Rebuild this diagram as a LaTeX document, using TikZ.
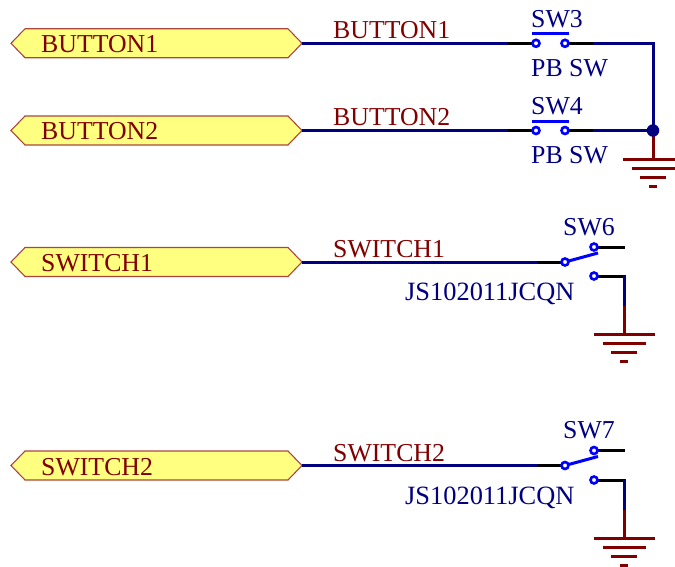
\documentclass[tikz,border=0pt]{standalone}
\usepackage{fontspec}
\setmainfont{Liberation Serif}
\definecolor{wirenavy}{RGB}{0,0,128}
\definecolor{pinblue}{RGB}{0,0,255}
\definecolor{darkred}{RGB}{128,0,0}
\definecolor{portfill}{RGB}{255,255,128}
\definecolor{portedge}{RGB}{170,70,60}
\tikzset{
  wire/.style={draw=wirenavy,line width=3pt},
  pinline/.style={draw=black,line width=3pt},
  gndline/.style={draw=darkred,line width=3pt},
  blade/.style={draw=pinblue,line width=3pt},
  contact/.style={circle,draw=pinblue,fill=white,line width=2.6pt,inner sep=0pt,minimum size=7pt},
  portbox/.style={draw=portedge,fill=portfill,line width=1.1pt,line join=miter},
  lab/.style={font=\fontsize{25.8}{26}\selectfont,inner sep=0pt,anchor=base west},
  redlab/.style={lab,text=darkred},
  bluelab/.style={lab,text=wirenavy},
  partlab/.style={bluelab,font=\fontsize{26.4}{27}\selectfont},
}
\newcommand{\portshape}[2]{%
  \path[portbox] (11,#1) -- (25,#1-14.5) -- (288,#1-14.5) -- (302,#1) -- (288,#1+14.5) -- (25,#1+14.5) -- cycle;
  \coordinate (#2) at (302,#1);
}
\newcommand{\groundsym}[3]{% x, y of first bar, name
  \coordinate (#3) at (#1,#2);
  \draw[gndline] (#1-30.5,#2) -- (#1+30.5,#2);
  \draw[gndline] (#1-21.5,#2+9) -- (#1+21.5,#2+9);
  \draw[gndline] (#1-13,#2+18) -- (#1+13,#2+18);
  \draw[gndline] (#1-4,#2+27) -- (#1+4,#2+27);
}
\begin{document}
\begin{tikzpicture}[x=1pt,y=-1pt]
\useasboundingbox (0,0) rectangle (675,567);
% ports
\portshape{43.3}{pa}
\portshape{130.5}{pb}
\portshape{262}{pc}
\portshape{465.5}{pd}
\node[redlab] (t1) at (41,53) {BUTTON1};
\node[redlab] (t2) at (41,140) {BUTTON2};
\node[redlab] (t3) at (41,271) {SWITCH1};
\node[redlab] (t4) at (41,475) {SWITCH2};
% net labels
\node[redlab] (n1) at (333,39) {BUTTON1};
\node[redlab] (n2) at (333,126) {BUTTON2};
\node[redlab] (n3) at (333,257) {SWITCH1};
\node[redlab] (n4) at (333,461) {SWITCH2};
% SW3 and SW4
\coordinate (a1) at (508,43.3); \coordinate (a2) at (593,43.3);
\coordinate (b1) at (508,130.5); \coordinate (b2) at (593,130.5);
\coordinate (j) at (653,130.5);
\coordinate (corner) at (653,43.3);
\draw[wire] (pa) -- (a1);
\draw[wire] (pb) -- (b1);
\draw[wire,line join=miter] (a2) -- (corner) -- (j);
\draw[wire] (b2) -- (j);
\draw[pinline] (a1) -- (536,43.3);
\draw[pinline] (565,43.3) -- (a2);
\draw[pinline] (b1) -- (536,130.5);
\draw[pinline] (565,130.5) -- (b2);
\draw[blade] (532,34) -- (569,34);
\draw[blade] (532,121.5) -- (569,121.5);
\node[contact] (s3a) at (536,43.3) {};
\node[contact] (s3b) at (565,43.3) {};
\node[contact] (s4a) at (536,130.5) {};
\node[contact] (s4b) at (565,130.5) {};
\node[bluelab] (sw3) at (531,28) {SW3};
\node[bluelab] (v3) at (531,77) {PB SW};
\node[bluelab] (sw4) at (531,115) {SW4};
\node[bluelab] (v4) at (531,164) {PB SW};
% ground 1
\groundsym{653}{160}{g1}
\draw[gndline] (j) -- (g1);
\node[circle,fill=wirenavy,inner sep=0pt,minimum size=12.5pt] (jd) at (j) {};
% SW6
\coordinate (c1) at (537,262);
\coordinate (c2) at (565,262);
\draw[wire] (pc) -- (c1);
\draw[pinline] (c1) -- (c2);
\draw[blade] (c2) -- (598,253);
\coordinate (c3) at (625,247);
\draw[pinline] (594,247) -- (c3);
\coordinate (c4) at (624,276);
\draw[pinline,line cap=rect] (594,276) -- (c4);
\coordinate (c5) at (624,306);
\draw[wire] (c4) -- (c5);
\groundsym{624}{334}{g2}
\draw[gndline] (c5) -- (g2);
\node[contact] (s6a) at (c2) {};
\node[contact] (s6b) at (594,247) {};
\node[contact] (s6c) at (594,276) {};
\node[bluelab] (sw6) at (563,235) {SW6};
\node[partlab] (v6) at (405,300) {JS102011JCQN};
% SW7
\coordinate (d1) at (537,465.5);
\coordinate (d2) at (565,465.5);
\draw[wire] (pd) -- (d1);
\draw[pinline] (d1) -- (d2);
\draw[blade] (d2) -- (598,456.5);
\coordinate (d3) at (625,450.5);
\draw[pinline] (594,450.5) -- (d3);
\coordinate (d4) at (624,480);
\draw[pinline,line cap=rect] (594,480) -- (d4);
\coordinate (d5) at (624,510);
\draw[wire] (d4) -- (d5);
\groundsym{624}{538}{g3}
\draw[gndline] (d5) -- (g3);
\node[contact] (s7a) at (d2) {};
\node[contact] (s7b) at (594,450.5) {};
\node[contact] (s7c) at (594,480) {};
\node[bluelab] (sw7) at (563,438) {SW7};
\node[partlab] (v7) at (405,504) {JS102011JCQN};
\end{tikzpicture}
\end{document}
